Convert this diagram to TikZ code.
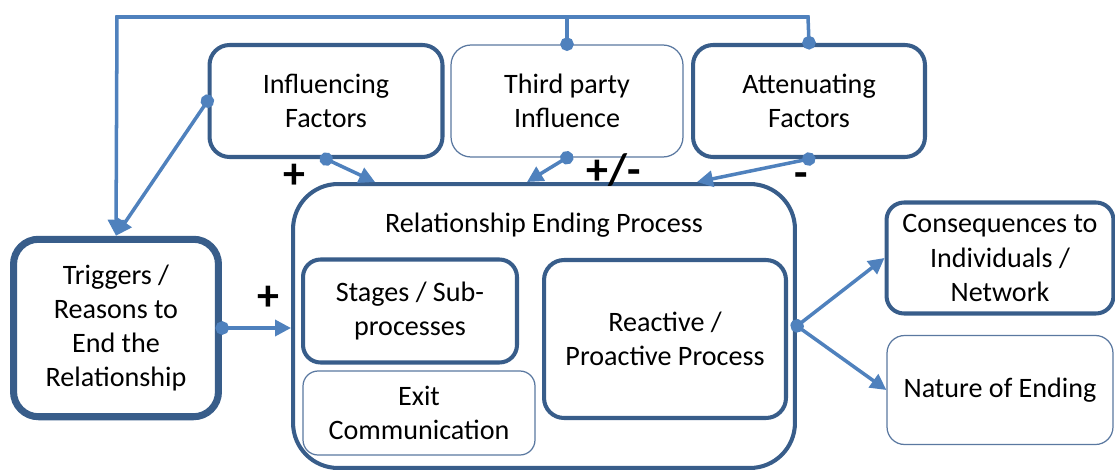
\documentclass[tikz,border=0pt]{standalone}
\usepackage{fontspec}
\setmainfont{Carlito}
\usepackage{tikz}
\usetikzlibrary{arrows.meta,positioning,calc}
\definecolor{LineBlue}{RGB}{79,129,189}
\definecolor{BoxBlue}{RGB}{56,93,138}
\definecolor{ThinBlue}{RGB}{90,120,160}

\begin{document}
\begin{tikzpicture}[x=0.02cm,y=-0.02cm,
    every node/.style={align=center,font=\fontsize{16}{19.5}\selectfont},
    thickbox/.style={draw=BoxBlue,line width=2.3pt,rounded corners=0.4cm,fill=white},
    thinbox/.style={draw=ThinBlue,line width=0.7pt,rounded corners=0.4cm,fill=white},
    conn/.style={draw=LineBlue,line width=2pt,shorten <=-1.3mm,{Circle[length=2.7mm,width=2.7mm]}-{Triangle[length=3.2mm,width=3.2mm]}},
    sign/.style={font=\fontsize{25}{25}\selectfont\bfseries}]
      \useasboundingbox (0,0) rectangle (1115,470);

      % top row
      \node[thickbox,minimum width=4.66cm,minimum height=2.24cm] (infl) at (326,101) {Influencing\\Factors};
      \node[thinbox,minimum width=4.64cm,minimum height=2.24cm] (third) at (567,101) {Third party\\Influence};
      \node[thickbox,minimum width=4.64cm,minimum height=2.24cm] (atten) at (809,101) {Attenuating\\Factors};

      % left and centre
      \node[thickbox,line width=4pt,minimum width=4.1cm,minimum height=3.55cm,rounded corners=0.5cm] (trig) at (116,328)
        {Triggers /\\Reasons to\\End the\\Relationship};
      \node[thickbox,minimum width=10.04cm,minimum height=5.68cm,rounded corners=0.9cm,
        label={[anchor=center,yshift=-0.86cm]north:Relationship Ending Process}] (rep) at (544,326) {};
      \node[thickbox,minimum width=4.28cm,minimum height=2.06cm,rounded corners=0.35cm] (stages) at (410,311) {Stages / Sub-\\processes};
      \node[thinbox,minimum width=4.64cm,minimum height=1.68cm,rounded corners=0.3cm] (exit) at (419,413) {Exit\\Communication};
      \node[thickbox,minimum width=4.84cm,minimum height=3.16cm] (react) at (665,339) {Reactive /\\Proactive Process};

      % right column
      \node[thickbox,minimum width=4.54cm,minimum height=2.22cm,rounded corners=0.35cm] (cons) at (1000,258)
        {Consequences to\\Individuals /\\Network};
      \node[thinbox,minimum width=4.52cm,minimum height=2.18cm,rounded corners=0.35cm] (nature) at (1000,390) {Nature of Ending};

      % feedback line along the top
      \coordinate (topR) at (808,17);
      \coordinate (topL) at (117,17);
      \draw[conn] (atten.north) -- (topR) -- (topL) -- (trig.north);
      \draw[conn,{Circle[length=2.7mm,width=2.7mm]}-] (third.north) -- (third.north |- topL);
      \draw[conn] (infl.west) -- (trig.north);

      % into the ending process
      \draw[conn] (infl.south) -- ([xshift=-3.38cm]rep.north);
      \draw[conn] (third.south) -- ([xshift=-0.34cm]rep.north);
      \draw[conn] (atten.south) -- ([xshift=3.06cm]rep.north);
      \draw[conn] (trig.east) -- (trig.east -| rep.west);

      % outcomes
      \draw[conn] (rep.east) -- (cons.west);
      \draw[conn,-{Triangle[length=3.2mm,width=3.2mm]}] (rep.east) -- (nature.west);

      \node[sign] (plusA) at (294,176) {+};
      \node[sign] (plusB) at (614,170) {+/-};
      \node[sign] (minusA) at (801,180) {-};
      \node[sign] (plusC) at (268,298) {+};
    \end{tikzpicture}
\end{document}
